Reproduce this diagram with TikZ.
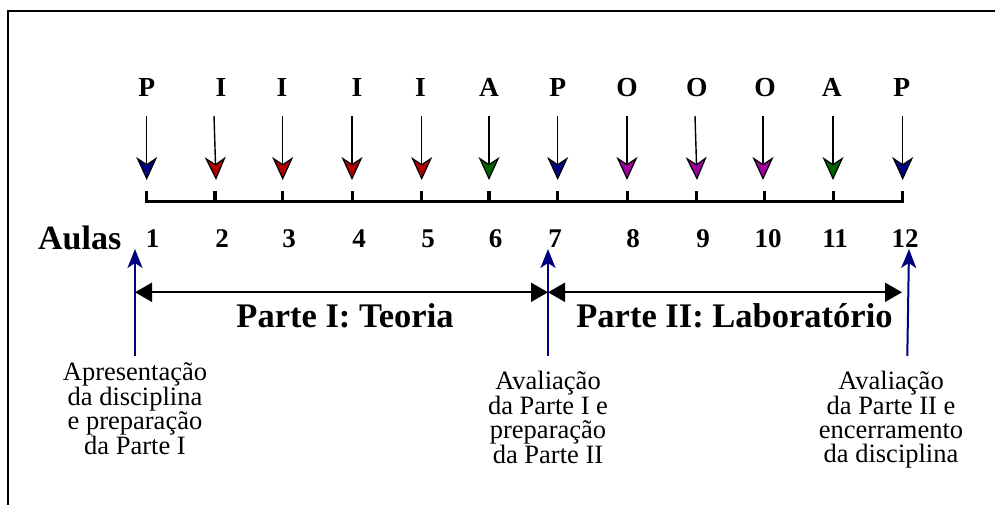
\documentclass[tikz,border=0pt]{standalone}
\usepackage{fontspec}
\setmainfont{Liberation Serif}
\usetikzlibrary{arrows.meta}
\definecolor{navyP}{RGB}{0,0,128}
\definecolor{redI}{RGB}{176,0,0}
\definecolor{greenA}{RGB}{0,100,0}
\definecolor{purpleO}{RGB}{160,0,160}
\begin{document}
\begin{tikzpicture}[x=1pt,y=-1pt,
  letter/.style={font=\fontsize{27.5}{27.5}\selectfont\bfseries, inner sep=0pt, anchor=base},
  num/.style={font=\fontsize{27}{27}\selectfont\bfseries, inner sep=0pt, anchor=base},
  ttl/.style={font=\fontsize{34.5}{34.5}\selectfont\bfseries, inner sep=0pt, anchor=base},
  note/.style={font=\fontsize{26.5}{24}\selectfont, inner sep=0pt, anchor=north, align=center},
  downarr/.style={line width=1.4pt,
    -{Stealth[length=23pt,width=21pt,inset=7pt,fill=#1,line width=1.2pt]}},
  uparr/.style={draw=navyP, line width=2pt,
    -{Stealth[length=19pt,width=15pt,inset=5pt]}},
  spanarr/.style={line width=2pt,
    {Triangle[length=17pt,width=19pt]}-{Triangle[length=17pt,width=19pt]}},
  axisline/.style={line width=3.5pt, line join=miter},
]
\useasboundingbox (0,0) rectangle (995,505);

% open frame: left and top edges
\draw[line width=1.8pt] (8,505) -- (8,11) -- (995,11);

% lesson types with their arrows and the ticks of the time line
\foreach \i/\L/\xl/\xt/\xh/\xk/\xn/\c in {
  1/P/146.7/146.7/146.7/146.7/152.7/navyP,
  2/I/221/214/216/215/222/redI,
  3/I/282/282.7/282.7/282.7/289/redI,
  4/I/357/352/352/352.3/359/redI,
  5/I/420.5/421.7/421.7/421.7/428/redI,
  6/A/489/489/489/489/495.7/greenA,
  7/P/557.7/557.7/557.7/557.7/555/navyP,
  8/O/627/627/627/627.7/633/purpleO,
  9/O/696.7/695/697/696.3/703/purpleO,
  10/O/765/763/763/764.3/768/purpleO,
  11/A/831.7/833/833/833.3/835/greenA,
  12/P/901.7/902.7/902.7/902.7/905/navyP} {
  \node[letter] (L\i) at (\xl,97) {\L};
  \coordinate (t\i) at (\xt,116);
  \coordinate (h\i) at (\xh,180);
  \draw[downarr=\c] (t\i) -- (h\i);
  \coordinate (k\i) at (\xk,201.7);
  \coordinate (kt\i) at (\xk,191);
  \node[num] (n\i) at (\xn,247) {\i};
}

% time line
\draw[axisline] (kt1) -- (k1) -- (k12) -- (kt12);
\foreach \i in {2,...,11} { \draw[axisline] (kt\i) -- (k\i); }

\node[font=\fontsize{34}{34}\selectfont\bfseries, inner sep=0pt, anchor=base west]
  (aulas) at (38,249) {Aulas};

% milestone arrows
\coordinate (u1b) at (135,356);   \coordinate (u1t) at (135,249);
\coordinate (u7b) at (548,356);   \coordinate (u7t) at (548,249);
\coordinate (u12b) at (907.3,356); \coordinate (u12t) at (909,249);
\draw[uparr] (u1b) -- (u1t);
\draw[uparr] (u7b) -- (u7t);
\draw[uparr] (u12b) -- (u12t);

% spans of the two parts
\coordinate (s1) at (135,292.3);
\coordinate (s7) at (548,292.3);
\coordinate (s12) at (902,292.3);
\draw[spanarr] (s1) -- (s7);
\draw[spanarr] (s7) -- (s12);

\node[ttl] (p1) at (345,327) {Parte I: Teoria};
\node[ttl] (p2) at (734.5,327) {Parte II: Laboratório};

% milestone descriptions
\node[note] (d1) at (135,362) {Apresentação\\da disciplina\\e preparação\\da Parte I};
\node[note] (d7) at (548,371) {Avaliação\\da Parte I e\\preparação\\da Parte II};
\node[note] (d12) at (891,371) {Avaliação\\da Parte II e\\encerramento\\da disciplina};
\end{tikzpicture}
\end{document}
